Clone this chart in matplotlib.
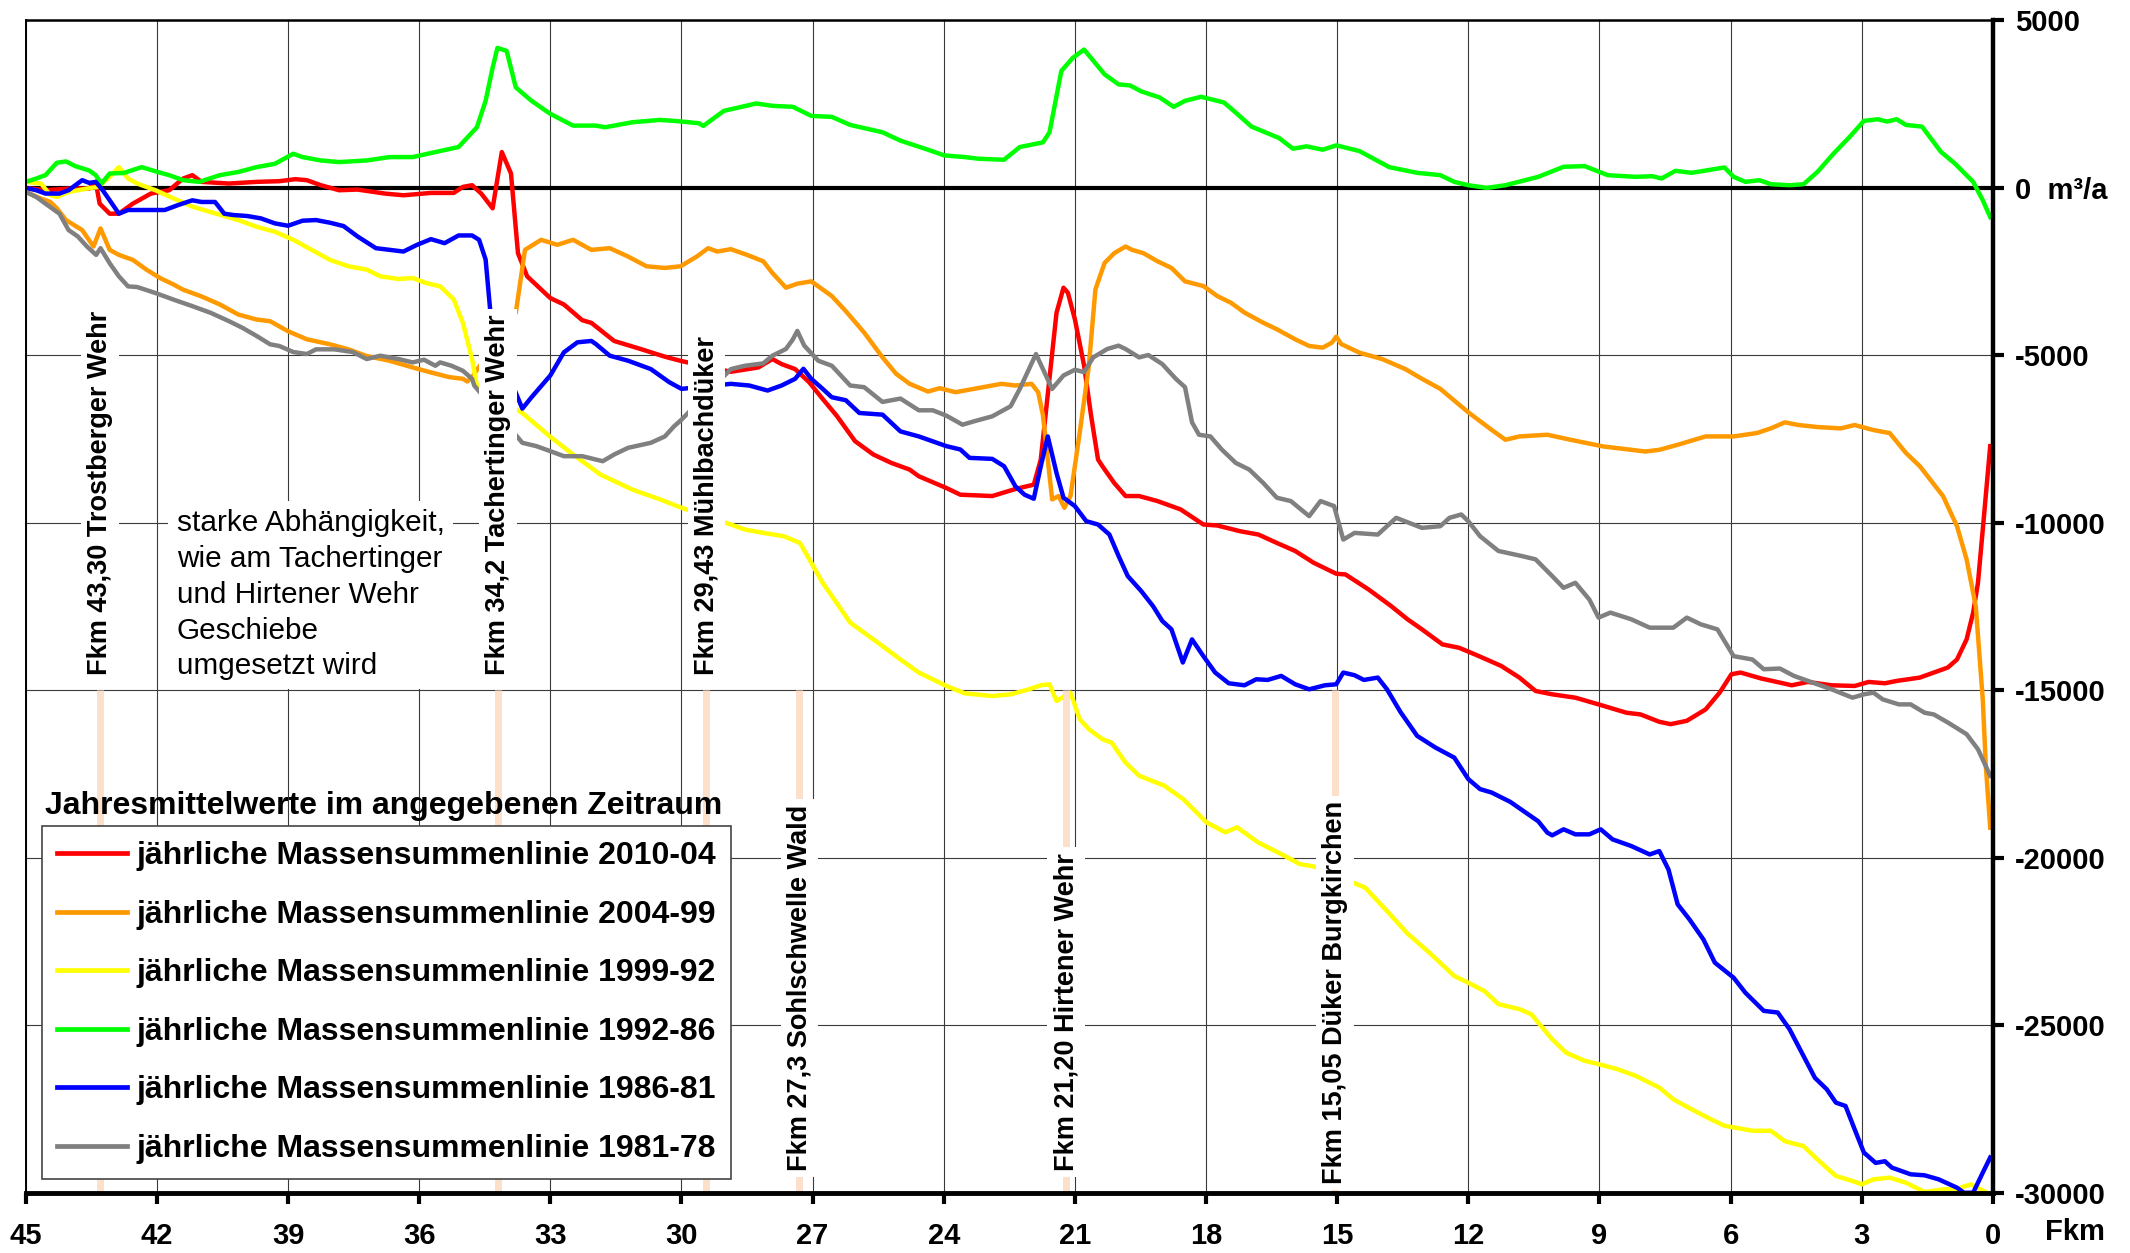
import matplotlib
matplotlib.use("Agg")
import matplotlib.pyplot as plt
from matplotlib.lines import Line2D
from matplotlib.font_manager import FontProperties

fam = ['Liberation Sans', 'DejaVu Sans']

# jährliche Massensummenlinie 2010-04
km_red = [45, 44.55, 44.02, 43.55, 43.4, 43.31, 43.08, 42.87, 42.55, 42.14, 41.72, 41.4, 41.19, 40.98,
          40.35, 39.72, 39.2, 38.83, 38.57, 38.25, 37.83, 37.41, 36.78, 36.36, 35.73, 35.21, 35.0, 34.79,
          34.58, 34.32, 34.11, 33.9, 33.74, 33.53, 33.0, 32.69, 32.27, 32.06, 31.54, 30.91, 30.38, 30.0,
          28.87, 28.24, 27.92, 27.71, 27.4, 27.08, 26.77, 26.45, 26.03, 25.61, 25.2, 24.78, 24.57, 23.94,
          23.62, 22.89, 22.36, 21.94, 21.78, 21.63, 21.42, 21.26, 21.16, 21.0, 20.79, 20.63, 20.47, 20.37,
          20.1, 19.84, 19.53, 19.11, 18.58, 18.06, 17.74, 17.22, 16.8, 16.38, 15.96, 15.54, 15.02, 14.81,
          14.28, 13.76, 13.39, 13.06, 12.59, 12.21, 11.79, 11.25, 10.83, 10.46, 10.08, 9.55, 9.02, 8.38,
          8.06, 7.63, 7.37, 7.0, 6.57, 6.25, 5.98, 5.77, 5.29, 4.87, 4.6, 4.23, 3.69, 3.16, 2.84, 2.47,
          2.2, 1.67, 1.35, 1.03, 0.82, 0.6, 0.45, 0.34, 0.23, 0.06]
val_red = [0, -70, -20, -20, 180, -470, -770, -770, -470, -170, -70, 280, 380, 180,
           130, 180, 200, 260, 230, 80, -70, -50, -170, -220, -150, -150, 30, 80,
           -170, -610, 1070, 430, -1950, -2640, -3290, -3480, -3950, -4030, -4570, -4820, -5040, -5170,
           -5490, -5360, -5110, -5260, -5410, -5800, -6300, -6800, -7560, -7960, -8210, -8410, -8610, -8960,
           -9160, -9200, -8990, -8860, -8110, -6290, -3730, -2980, -3130, -3920, -5300, -6790, -8110, -8310,
           -8810, -9200, -9200, -9350, -9600, -10050, -10080, -10250, -10350, -10600, -10840, -11190, -11520, -11540,
           -11990, -12490, -12880, -13180, -13630, -13730, -13960, -14270, -14620, -15020, -15120, -15220, -15420, -15670,
           -15720, -15940, -16010, -15910, -15570, -15070, -14520, -14470, -14650, -14770, -14850, -14750, -14850, -14870, -14750, -14790,
           -14720, -14620, -14470, -14320, -14080, -13480, -12680, -11790, -10200, -7710]

# jährliche Massensummenlinie 2004-99
km_orange = [45, 44.65, 44.44, 44.29, 44.08, 43.71, 43.45, 43.29, 43.08, 42.87, 42.55, 42.24, 41.93, 41.61,
             41.4, 40.98, 40.56, 40.14, 39.72, 39.41, 39.0, 38.57, 38.04, 37.62, 37.2, 36.68, 36.15, 35.73,
             35.31, 35.0, 34.9, 34.79, 33.79, 33.58, 33.21, 32.84, 32.48, 32.06, 31.64, 31.22, 30.8, 30.38,
             30.02, 29.65, 29.39, 29.18, 28.87, 28.5, 28.13, 27.92, 27.61, 27.35, 27.03, 26.56, 26.24, 25.82,
             25.4, 25.09, 24.78, 24.36, 24.09, 23.73, 23.31, 22.89, 22.68, 22.36, 21.99, 21.84, 21.73, 21.52,
             21.37, 21.24, 21.1, 20.89, 20.68, 20.53, 20.32, 20.1, 19.84, 19.69, 19.43, 19.11, 18.79, 18.48,
             18.06, 17.74, 17.43, 17.11, 16.7, 16.38, 15.96, 15.64, 15.33, 15.12, 15.02, 14.91, 14.49, 13.97,
             13.44, 13.06, 12.64, 12.0, 11.47, 11.15, 10.83, 10.19, 9.66, 8.91, 7.95, 7.63, 7.21, 6.57,
             5.93, 5.4, 5.08, 4.76, 4.44, 4.01, 3.48, 3.16, 2.73, 2.36, 1.99, 1.67, 1.14, 0.82,
             0.6, 0.39, 0.23, 0.16, 0.06]
val_orange = [-120, -320, -420, -610, -960, -1260, -1750, -1210, -1850, -2000, -2150, -2440, -2690, -2890,
              -3040, -3240, -3480, -3780, -3930, -3980, -4280, -4520, -4670, -4820, -5020, -5160, -5360, -5510,
              -5650, -5700, -5780, -5650, -3730, -1850, -1550, -1700, -1550, -1850, -1800, -2050, -2340, -2390,
              -2340, -2050, -1800, -1900, -1830, -2000, -2190, -2540, -2980, -2860, -2790, -3230, -3680, -4320,
              -5060, -5550, -5850, -6080, -5980, -6100, -6000, -5900, -5850, -5900, -5850, -6100, -6790, -9300,
              -9200, -9550, -9200, -7320, -5310, -3030, -2240, -1950, -1750, -1850, -1950, -2190, -2390, -2790,
              -2930, -3230, -3430, -3730, -4020, -4220, -4520, -4720, -4770, -4620, -4440, -4660, -4920, -5110,
              -5410, -5700, -6000, -6700, -7220, -7520, -7420, -7370, -7520, -7720, -7870, -7820, -7670, -7420,
              -7420, -7320, -7180, -7000, -7080, -7140, -7180, -7080, -7230, -7320, -7910, -8310, -9200, -10100,
              -11090, -12490, -15270, -17260, -19100]

# jährliche Massensummenlinie 1999-92
km_yellow = [45, 44.65, 44.44, 44.29, 44.02, 43.6, 43.34, 43.08, 42.87, 42.66, 42.45, 42.03, 41.61, 41.19,
             40.67, 40.14, 39.72, 39.3, 38.88, 38.46, 38.04, 37.62, 37.2, 36.89, 36.47, 36.15, 35.84, 35.52,
             35.21, 35.0, 34.79, 34.68, 33.64, 33.01, 32.48, 31.85, 31.12, 30.49, 30.0, 28.87, 28.55, 28.13,
             27.66, 27.29, 27.03, 26.77, 26.45, 26.14, 25.82, 25.4, 24.99, 24.57, 23.94, 23.52, 22.89, 22.47,
             22.05, 21.78, 21.58, 21.42, 21.1, 20.89, 20.68, 20.37, 20.16, 19.84, 19.53, 18.95, 18.52, 17.99,
             17.56, 17.29, 16.81, 16.28, 15.85, 15.53, 14.36, 13.83, 13.4, 12.85, 12.32, 12.0, 11.63, 11.31,
             10.83, 10.56, 10.08, 9.76, 9.34, 9.02, 8.59, 8.17, 7.63, 7.31, 6.89, 6.46, 6.14, 5.5,
             5.08, 4.76, 4.33, 4.01, 3.59, 3.21, 3.0, 2.73, 2.36, 1.99, 1.56, 1.14, 0.82, 0.5, 0.13]
val_yellow = [180, 130, -220, -270, -120, -20, 30, 330, 620, 280, 130, -70, -320, -560,
              -760, -960, -1160, -1310, -1550, -1850, -2150, -2340, -2440, -2640, -2720, -2690, -2840, -2940,
              -3330, -4030, -5110, -5900, -6720, -7420, -7960, -8560, -9010, -9300, -9550, -10050, -10200, -10300,
              -10400, -10600, -11190, -11790, -12390, -12980, -13280, -13680, -14080, -14470, -14870, -15090, -15170, -15120,
              -14970, -14850, -14820, -15320, -15070, -15860, -16160, -16460, -16560, -17160, -17550, -17850, -18250, -18940,
              -19240, -19090, -19540, -19890, -20190, -20260, -20890, -21630, -22250, -22880, -23530, -23730, -23980, -24370,
              -24520, -24670, -25420, -25820, -26060, -26160, -26310, -26510, -26860, -27210, -27510, -27800, -28000, -28150,
              -28150, -28460, -28610, -29010, -29500, -29650, -29750, -29600, -29550, -29700, -29980, -29900, -29880, -29750, -30000]

# jährliche Massensummenlinie 1992-86
km_green = [45, 44.76, 44.55, 44.29, 44.08, 43.87, 43.55, 43.4, 43.27, 43.08, 42.76, 42.35, 41.98, 41.72,
            41.4, 41.03, 40.56, 40.14, 39.72, 39.3, 38.88, 38.67, 38.25, 37.83, 37.2, 36.68, 36.15, 35.63,
            35.1, 34.68, 34.48, 34.32, 34.21, 34.0, 33.79, 33.43, 33.0, 32.48, 31.96, 31.75, 31.12, 30.49,
            30.07, 29.6, 29.5, 29.03, 28.29, 27.92, 27.45, 27.03, 26.56, 26.14, 25.4, 24.99, 24.36, 23.99,
            23.52, 23.2, 22.62, 22.26, 21.73, 21.58, 21.31, 21.05, 20.79, 20.32, 20.0, 19.74, 19.48, 19.06,
            18.74, 18.48, 18.11, 17.59, 17.33, 16.96, 16.33, 16.01, 15.7, 15.33, 15.02, 14.49, 13.81, 13.17,
            12.64, 12.32, 12.0, 11.57, 11.15, 10.4, 9.82, 9.34, 8.81, 8.17, 7.79, 7.58, 7.26, 6.89,
            6.14, 5.93, 5.66, 5.34, 5.08, 4.65, 4.33, 4.01, 3.64, 3.27, 2.95, 2.63, 2.42, 2.2,
            1.99, 1.62, 1.19, 0.87, 0.45, 0.23, 0.06]
val_green = [180, 280, 380, 750, 790, 650, 520, 380, 130, 430, 445, 620, 475, 380,
             230, 180, 380, 475, 620, 720, 1020, 920, 820, 770, 820, 920, 920, 1070,
             1220, 1810, 2600, 3590, 4180, 4090, 3000, 2600, 2210, 1860, 1860, 1810, 1960, 2030,
             1990, 1930, 1850, 2300, 2520, 2450, 2420, 2150, 2120, 1880, 1660, 1410, 1140, 970,
             920, 870, 840, 1220, 1360, 1660, 3490, 3880, 4130, 3390, 3090, 3060, 2880, 2700,
             2420, 2600, 2720, 2550, 2260, 1830, 1490, 1170, 1240, 1140, 1270, 1100, 620, 450,
             380, 180, 80, 0, 80, 330, 630, 650, 380, 330, 350, 280, 510, 450,
             610, 330, 180, 230, 110, 80, 110, 480, 1030, 1530, 2000, 2050, 1980, 2050,
             1880, 1830, 1080, 730, 180, -370, -870]

# jährliche Massensummenlinie 1986-81
km_blue = [45, 44.76, 44.55, 44.23, 44.02, 43.71, 43.55, 43.4, 43.24, 43.08, 42.87, 42.66, 42.24, 41.82,
           41.51, 41.19, 40.98, 40.67, 40.46, 40.25, 39.93, 39.62, 39.3, 39.0, 38.67, 38.36, 38.04, 37.73,
           37.41, 36.99, 36.36, 36.05, 35.73, 35.42, 35.1, 34.79, 34.63, 34.48, 34.37, 34.3, 33.64, 33.43,
           33.0, 32.69, 32.38, 32.06, 31.96, 31.64, 31.22, 30.7, 30.28, 30.0, 28.87, 28.45, 28.03, 27.71,
           27.4, 27.21, 27.03, 26.77, 26.56, 26.24, 25.93, 25.4, 24.99, 24.57, 23.94, 23.62, 23.41, 22.89,
           22.62, 22.36, 22.15, 21.94, 21.78, 21.62, 21.42, 21.26, 21.0, 20.74, 20.47, 20.21, 20.0, 19.79,
           19.48, 19.21, 19.0, 18.79, 18.53, 18.32, 18.06, 17.79, 17.48, 17.12, 16.85, 16.59, 16.28, 15.96,
           15.64, 15.28, 15.02, 14.86, 14.6, 14.39, 14.07, 13.86, 13.55, 13.17, 12.75, 12.32, 12.0, 11.73,
           11.47, 11.04, 10.62, 10.4, 10.19, 10.08, 9.82, 9.55, 9.23, 8.97, 8.7, 8.27, 7.85, 7.63,
           7.42, 7.21, 6.94, 6.62, 6.36, 5.93, 5.66, 5.24, 4.92, 4.65, 4.33, 4.07, 3.8, 3.59,
           3.37, 3.16, 2.95, 2.68, 2.47, 2.31, 1.88, 1.56, 1.24, 0.82, 0.66, 0.45, 0.23, 0.06]
val_blue = [0, -70, -170, -170, -70, 230, 150, 180, -70, -370, -770, -660, -660, -660,
            -510, -370, -420, -420, -770, -810, -840, -910, -1060, -1130, -980, -960, -1040, -1140,
            -1450, -1800, -1900, -1700, -1530, -1650, -1420, -1420, -1550, -2140, -3730, -4500, -6590, -6250,
            -5600, -4910, -4610, -4570, -4660, -5010, -5160, -5410, -5800, -6000, -5850, -5900, -6050, -5900,
            -5700, -5400, -5700, -6000, -6250, -6340, -6720, -6770, -7270, -7420, -7710, -7810, -8060, -8090,
            -8310, -8910, -9160, -9280, -8310, -7420, -8510, -9250, -9500, -9950, -10050, -10350, -10990, -11590,
            -12040, -12490, -12930, -13180, -14170, -13480, -13980, -14470, -14790, -14850, -14670, -14690, -14570, -14820,
            -14970, -14850, -14820, -14470, -14550, -14690, -14620, -14970, -15650, -16360, -16710, -17010, -17650, -17950,
            -18050, -18330, -18710, -18910, -19250, -19330, -19150, -19300, -19300, -19150, -19450, -19650, -19900, -19800,
            -20350, -21390, -21840, -22440, -23130, -23580, -24030, -24570, -24620, -25120, -25920, -26570, -26910, -27310,
            -27410, -28110, -28800, -29110, -29060, -29250, -29450, -29480, -29600, -29850, -30000, -30000, -29400, -28950]

# jährliche Massensummenlinie 1981-78
km_gray = [45, 44.76, 44.55, 44.23, 44.02, 43.81, 43.6, 43.39, 43.29, 43.08, 42.87, 42.66, 42.45, 42.03,
           41.61, 41.19, 40.77, 40.35, 40.04, 39.72, 39.41, 39.2, 38.88, 38.57, 38.36, 37.94, 37.52, 37.2,
           36.89, 36.47, 36.15, 35.89, 35.63, 35.52, 35.26, 35.0, 34.79, 34.74, 33.64, 33.32, 33.0, 32.69,
           32.27, 31.8, 31.54, 31.22, 30.7, 30.38, 30.17, 30.0, 28.87, 28.55, 28.13, 27.92, 27.61, 27.45,
           27.35, 27.19, 26.87, 26.56, 26.14, 25.82, 25.4, 24.99, 24.57, 24.25, 23.94, 23.57, 23.31, 22.89,
           22.47, 22.26, 21.89, 21.52, 21.26, 21.0, 20.79, 20.58, 20.26, 20.0, 19.84, 19.53, 19.32, 19.0,
           18.69, 18.48, 18.32, 18.16, 17.9, 17.64, 17.32, 17.01, 16.69, 16.38, 16.06, 15.64, 15.38, 15.07,
           14.86, 14.6, 14.07, 13.65, 13.06, 12.64, 12.43, 12.16, 12.0, 11.73, 11.31, 10.78, 10.46, 10.08,
           9.82, 9.55, 9.23, 9.02, 8.75, 8.27, 7.85, 7.31, 7.0, 6.68, 6.3, 5.93, 5.5, 5.24,
           4.87, 4.55, 4.12, 3.69, 3.21, 2.95, 2.73, 2.52, 2.15, 1.88, 1.56, 1.35, 1.03, 0.6,
           0.34, 0.06]
val_gray = [-120, -270, -470, -770, -1260, -1450, -1750, -2000, -1800, -2250, -2640, -2940, -2960, -3140,
            -3340, -3530, -3730, -3980, -4180, -4420, -4670, -4720, -4900, -4960, -4820, -4820, -4900, -5110,
            -5010, -5110, -5210, -5130, -5310, -5210, -5310, -5460, -5700, -5900, -7610, -7710, -7860, -8010,
            -8010, -8160, -7960, -7760, -7610, -7420, -7120, -6920, -5410, -5310, -5240, -5010, -4810, -4520,
            -4270, -4710, -5160, -5310, -5900, -5950, -6390, -6290, -6640, -6640, -6800, -7070, -6970, -6820,
            -6520, -6000, -4960, -6000, -5600, -5430, -5500, -5060, -4810, -4710, -4810, -5060, -4990, -5260,
            -5700, -5950, -7000, -7370, -7420, -7810, -8210, -8410, -8810, -9250, -9350, -9800, -9350, -9500,
            -10500, -10300, -10350, -9850, -10150, -10100, -9850, -9750, -9950, -10400, -10840, -10990, -11090, -11590,
            -11940, -11790, -12290, -12830, -12680, -12880, -13130, -13130, -12830, -13030, -13180, -13980, -14080, -14370,
            -14350, -14570, -14770, -14970, -15220, -15120, -15070, -15270, -15420, -15420, -15670, -15720, -15960, -16310,
            -16760, -17550]

series = [
    ("jährliche Massensummenlinie 2010-04", km_red, val_red, "#ff0000"),
    ("jährliche Massensummenlinie 2004-99", km_orange, val_orange, "#ff9900"),
    ("jährliche Massensummenlinie 1999-92", km_yellow, val_yellow, "#ffff00"),
    ("jährliche Massensummenlinie 1992-86", km_green, val_green, "#00ff00"),
    ("jährliche Massensummenlinie 1986-81", km_blue, val_blue, "#0000ff"),
    ("jährliche Massensummenlinie 1981-78", km_gray, val_gray, "#808080"),
]

# Bauwerke entlang des Flusses
marker_km = [43.30, 34.2, 29.43, 27.3, 21.20, 15.05]
marker_text = ["Fkm 43,30 Trostberger Wehr", "Fkm 34,2 Tachertinger Wehr", "Fkm 29,43 Mühlbachdüker",
               "Fkm 27,3 Sohlschwelle Wald", "Fkm 21,20 Hirtener Wehr", "Fkm 15,05 Düker Burgkirchen"]
marker_text_bottom = [-14550, -14550, -14550, -29350, -29350, -29750]

x_ticks = list(range(45, -1, -3))
y_ticks = list(range(-30000, 5001, 5000))
y_labels = ["0  m³/a" if v == 0 else str(v) for v in y_ticks]

fig = plt.figure(figsize=(21.3, 12.53), dpi=100)
ax = fig.add_axes([0.0121, 0.0481, 0.9235, 0.9356])

for name, km, val, col in series:
    ax.plot(km, val, color=col, lw=3.2, zorder=2, solid_joinstyle='round')

ax.axhline(0, color='black', lw=3, zorder=1.8)

# hellorange Markierungen
ax.vlines(marker_km, -30000, -15000, color='#fde0ca', lw=5, zorder=2.5)

for xk, txt, yb in zip(marker_km, marker_text, marker_text_bottom):
    ax.text(xk, yb, txt, rotation=90, ha='center', va='bottom', family=fam, weight='bold',
            fontsize=19.5, zorder=4,
            bbox=dict(facecolor='white', edgecolor='none', pad=4))

ax.text(41.55, -12150, "starke Abhängigkeit,\nwie am Tachertinger\nund Hirtener Wehr\nGeschiebe\numgesetzt wird",
        ha='left', va='center', family=fam, fontsize=21.4, linespacing=1.35,
        zorder=4, bbox=dict(facecolor='white', edgecolor='none', pad=6))

ax.set_xlim(45, 0)
ax.set_ylim(-30000, 5000)
ax.set_xticks(x_ticks)
ax.set_xticklabels([str(v) for v in x_ticks])
ax.set_yticks(y_ticks)
ax.set_yticklabels(y_labels)

ax.set_axisbelow(True)
ax.grid(True, color='#3a3a3a', lw=0.8)

ax.yaxis.tick_right()
ax.tick_params(axis='x', direction='out', length=8, width=3, pad=13, labelsize=21)
ax.tick_params(axis='y', direction='out', length=8, width=3, pad=8, labelsize=21)
for lab in ax.get_xticklabels() + ax.get_yticklabels():
    lab.set_family(fam)
    lab.set_weight('bold')

ax.spines['left'].set_color('black')
ax.spines['left'].set_linewidth(1.4)
ax.spines['top'].set_linewidth(1.8)
ax.spines['right'].set_linewidth(3.2)
ax.spines['bottom'].set_linewidth(3.5)

ax.text(-1.2, -31410, "Fkm", ha='left', va='baseline', family=fam, weight='bold',
        fontsize=21, clip_on=False)

ax.text(44.57, -18440, "Jahresmittelwerte im angegebenen Zeitraum", ha='left', va='center',
        family=fam, weight='bold', fontsize=23, zorder=5)

# Legende: Zeilenabstand ca. 42 pt wie im Original
fs_leg = 23
handles = [Line2D([], [], color=col, lw=3.4) for name, km, val, col in series]
labels = [name for name, km, val, col in series]
leg = ax.legend(handles, labels, loc='lower left', bbox_to_anchor=(0.0083, 0.0117),
                borderaxespad=0, frameon=True, fancybox=False, framealpha=1,
                edgecolor='#444444', borderpad=11.0 / fs_leg, labelspacing=(41.8 - 0.925 * fs_leg) / fs_leg,
                handlelength=50.0 / fs_leg, handletextpad=6.8 / fs_leg,
                prop=FontProperties(family=fam, weight='bold', size=fs_leg))
leg.get_frame().set_linewidth(1.2)
leg.set_zorder(6)

fig.savefig("out.png", dpi=100)
